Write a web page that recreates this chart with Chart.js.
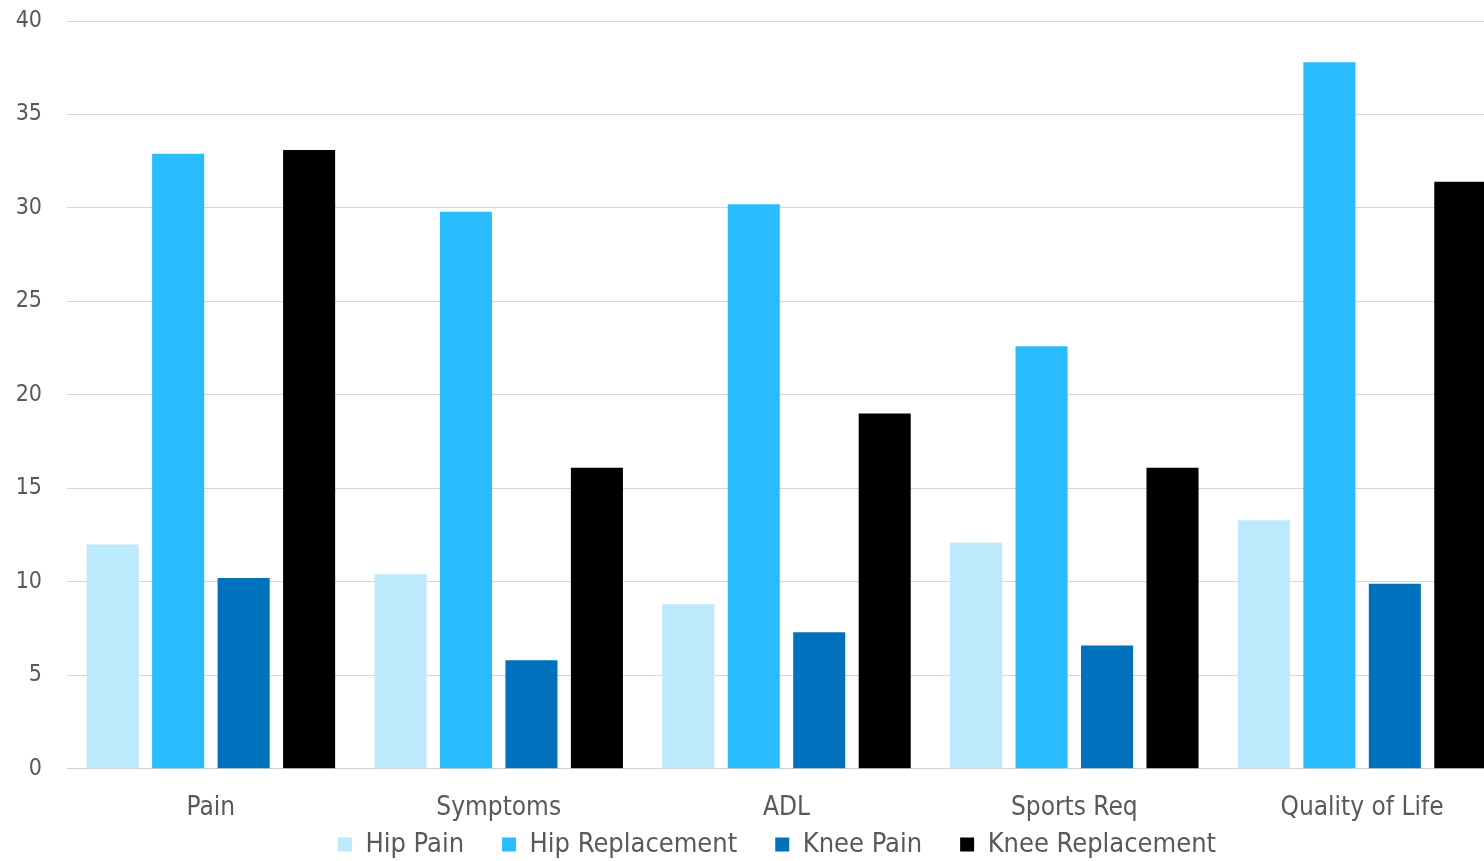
<!DOCTYPE html>
<html>
<head>
<meta charset="utf-8">
<title>Scores by subscale</title>
<script src="https://cdn.jsdelivr.net/npm/chart.js@4.4.1/dist/chart.umd.min.js"></script>
<style>
    html, body { margin:0; padding:0; background:#fff; overflow:hidden; }
    #wrap { width:1506px; height:861px; position:relative; }
</style>
</head>
<body>
<div id="wrap"><canvas id="scoreChart"></canvas></div>
<script>
var categories = ['Pain', 'Symptoms', 'ADL', 'Sports Req', 'Quality of Life'];
var hipPain = [12.0, 10.4, 8.8, 12.1, 13.3];
var hipReplacement = [32.9, 29.8, 30.2, 22.6, 37.8];
var kneePain = [10.2, 5.8, 7.3, 6.6, 9.9];
var kneeReplacement = [33.1, 16.1, 19.0, 16.1, 31.4];
var yTicks = [0, 5, 10, 15, 20, 25, 30, 35, 40];

var fontFamily = '"Liberation Sans Narrow", "Arial Narrow", "DejaVu Sans Condensed", sans-serif';
var textColor = '#595959';

// legend padding also sets the gap between items, so move the legend box afterwards
var legendLift = {
    id:'legendLift',
    afterLayout:function(chart) {
        if(chart.legend) {
            chart.legend.top -= 55;
            chart.legend.bottom -= 55;
            chart.legend.left += 24;
            chart.legend.right += 24;
        }
    }
};

var scoreChart = new Chart(document.getElementById('scoreChart'), {
    type:'bar',
    plugins:[legendLift],
    data:{
        labels:categories,
        datasets:[
            { label:'Hip Pain', data:hipPain, backgroundColor:'#bde9fc' },
            { label:'Hip Replacement', data:hipReplacement, backgroundColor:'#29bdfd' },
            { label:'Knee Pain', data:kneePain, backgroundColor:'#0072bd' },
            { label:'Knee Replacement', data:kneeReplacement, backgroundColor:'#000000' }
        ]
    },
    options:{
        responsive:true,
        maintainAspectRatio:false,
        animation:false,
        layout:{ padding:{ top:21, left:0, right:0, bottom:-62 } },
        datasets:{ bar:{ categoryPercentage:0.91, barPercentage:0.795 } },
        plugins:{
            tooltip:{ enabled:false },
            legend:{
                position:'bottom',
                labels:{
                    color:textColor,
                    font:{ family:fontFamily, size:27 },
                    boxWidth:14,
                    boxHeight:14,
                    padding:38
                }
            }
        },
        scales:{
            x:{
                grid:{ display:false, drawTicks:false },
                border:{ display:true, color:'#d0d0d0', width:1 },
                ticks:{ color:textColor, font:{ family:fontFamily, size:26 }, padding:24 }
            },
            y:{
                min:0,
                max:40,
                afterBuildTicks:function(axis) {
                    axis.ticks = yTicks.map(function(v) { return { value:v }; });
                },
                afterFit:function(axis) {
                    axis.width = 67;
                    axis.paddingTop = 0;
                    axis.paddingBottom = 0;
                },
                grid:{ color:'#d6d6d6', drawTicks:false },
                border:{ display:false },
                ticks:{ color:textColor, font:{ family:fontFamily, size:23 }, padding:25 }
            }
        }
    }
});
</script>
</body>
</html>
